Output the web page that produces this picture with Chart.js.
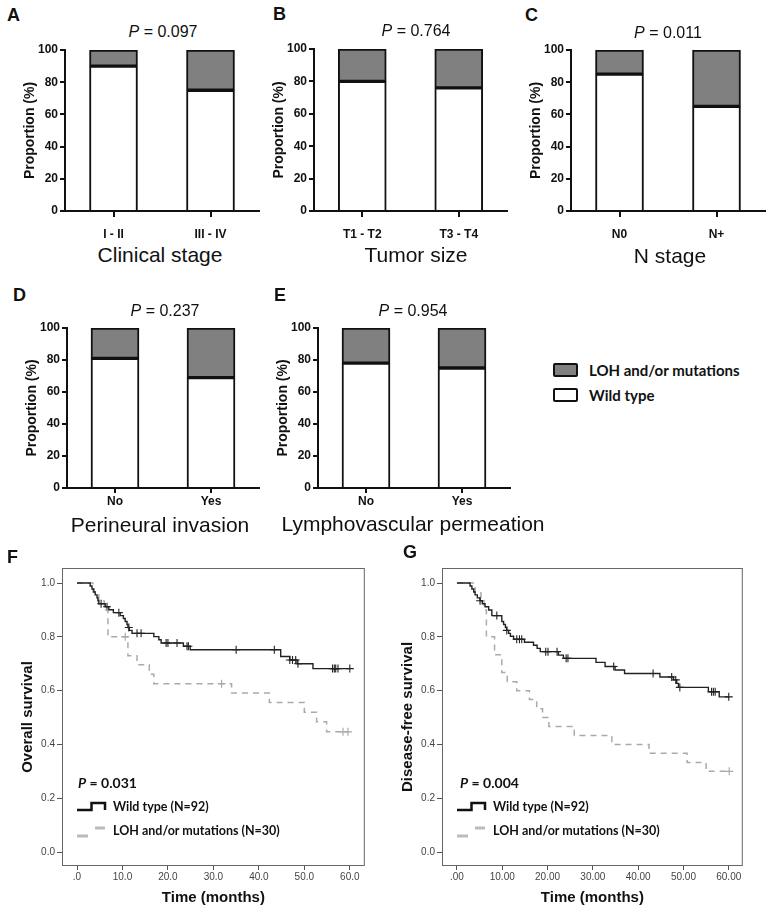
<!DOCTYPE html>
<html>
<head>
<meta charset="utf-8">
<title>LOH / mutation figure</title>
<script src="https://cdn.jsdelivr.net/npm/chart.js@4.4.1/dist/chart.umd.min.js"></script>
<style>
  body { margin: 0; background: #fff; }
  #fig { position: relative; width: 768px; height: 912px; overflow: hidden; font-family: "Liberation Sans", Arial, sans-serif; color: #111; }
  #fig canvas { position: absolute; }
  .tag { position: absolute; font-size: 18px; line-height: 18px; font-weight: bold; }
  .pval { position: absolute; font-size: 16px; line-height: 16px; transform: translate(-50%, -50%); white-space: nowrap; }
  .xname { position: absolute; font-size: 21px; line-height: 21px; transform: translate(-50%, -50%); white-space: nowrap; }
  .key { position: absolute; font-family: Lato, sans-serif; font-weight: bold; line-height: 1; white-space: nowrap; transform: translateY(-50%); }
  .box { position: absolute; width: 21px; height: 10px; border: 2px solid #111; border-radius: 2px; }
  #icons { position: absolute; left: 0; top: 0; }
</style>
</head>
<body>
<div id="fig">
  <canvas id="chA" width="263" height="201" style="left:0px;top:40px"></canvas>
  <canvas id="chB" width="262" height="202" style="left:249px;top:39px"></canvas>
  <canvas id="chC" width="262" height="201" style="left:506px;top:40px"></canvas>
  <canvas id="chD" width="261" height="200" style="left:2px;top:318px"></canvas>
  <canvas id="chE" width="261" height="200" style="left:253px;top:318px"></canvas>
  <canvas id="chF" width="370" height="352" style="left:0px;top:560px"></canvas>
  <canvas id="chG" width="368" height="352" style="left:380px;top:560px"></canvas>

  <div class="tag" style="left:7px;top:6px">A</div>
  <div class="tag" style="left:273px;top:5px">B</div>
  <div class="tag" style="left:525px;top:6px">C</div>
  <div class="tag" style="left:13px;top:286px">D</div>
  <div class="tag" style="left:274px;top:286px">E</div>
  <div class="tag" style="left:7px;top:548px">F</div>
  <div class="tag" style="left:403px;top:543px">G</div>

  <div class="pval" style="left:163px;top:32px"><i>P</i> = 0.097</div>
  <div class="pval" style="left:416px;top:31px"><i>P</i> = 0.764</div>
  <div class="pval" style="left:668px;top:33px"><i>P</i> = 0.011</div>
  <div class="pval" style="left:165px;top:311px"><i>P</i> = 0.237</div>
  <div class="pval" style="left:413px;top:311px"><i>P</i> = 0.954</div>

  <div class="xname" style="left:160px;top:254px">Clinical stage</div>
  <div class="xname" style="left:416px;top:254px">Tumor size</div>
  <div class="xname" style="left:670px;top:255px">N stage</div>
  <div class="xname" style="left:160px;top:524px">Perineural invasion</div>
  <div class="xname" style="left:413px;top:523px">Lymphovascular permeation</div>

  <div class="box" style="left:553px;top:363px;background:#808080"></div>
  <div class="box" style="left:553px;top:388px;background:#fff"></div>
  <div class="key" style="left:589px;top:370px;font-size:15px">LOH and/or mutations</div>
  <div class="key" style="left:589px;top:395px;font-size:15px">Wild type</div>

  <div class="key" style="left:78px;top:783px;font-size:14px"><i>P</i> = 0.031</div>
  <div class="key" style="left:113px;top:807px;font-size:12.5px">Wild type (N=92)</div>
  <div class="key" style="left:113px;top:831px;font-size:12.5px">LOH and/or mutations (N=30)</div>
  <div class="key" style="left:460px;top:783px;font-size:14px"><i>P</i> = 0.004</div>
  <div class="key" style="left:493px;top:807px;font-size:12.5px">Wild type (N=92)</div>
  <div class="key" style="left:493px;top:831px;font-size:12.5px">LOH and/or mutations (N=30)</div>

  <svg id="icons" width="768" height="912">
    <polyline points="77,810 91.5,810 91.5,803 105,803 105,810" fill="none" stroke="#111" stroke-width="2.5"/>
    <line x1="77" y1="836" x2="88" y2="836" stroke="#bbb" stroke-width="3"/>
    <line x1="95" y1="828" x2="105" y2="828" stroke="#bbb" stroke-width="3"/>
    <polyline points="457,810 471.5,810 471.5,803 485,803 485,810" fill="none" stroke="#111" stroke-width="2.5"/>
    <line x1="457" y1="836" x2="468" y2="836" stroke="#bbb" stroke-width="3"/>
    <line x1="475" y1="828" x2="485" y2="828" stroke="#bbb" stroke-width="3"/>
  </svg>
</div>

<script>
const FONT = '"Liberation Sans", Arial, sans-serif';

// A-E: proportion (%) of wild type vs LOH and/or mutations
const stageCats = ["I - II", "III - IV"];
const stageWild = [90, 75];
const stageLoh = [10, 25];
const sizeCats = ["T1 - T2", "T3 - T4"];
const sizeWild = [80, 76];
const sizeLoh = [20, 24];
const nodeCats = ["N0", "N+"];
const nodeWild = [85, 65];
const nodeLoh = [15, 35];
const pniCats = ["No", "Yes"];
const pniWild = [81, 69];
const pniLoh = [19, 31];
const lvpCats = ["No", "Yes"];
const lvpWild = [78, 75];
const lvpLoh = [22, 25];
const propTicks = [0, 20, 40, 60, 80, 100];

// F, G: Kaplan-Meier curves (time in months, survival fraction)
const survTicks = [0, 0.2, 0.4, 0.6, 0.8, 1.0];
const monthTicks = [0, 10, 20, 30, 40, 50, 60];

const osWildT = [0, 2.9, 3.3, 3.7, 4.0, 4.4, 4.6, 4.8, 6.2, 7.0, 8.0, 9.5, 10.2, 10.6, 11.0, 11.2, 11.5, 12.1, 16.9, 18.0, 18.5, 23.4, 24.9, 44.8, 46.8, 48.4, 51.9, 60.0];
const osWildS = [1.0, 0.989, 0.978, 0.967, 0.956, 0.945, 0.934, 0.923, 0.912, 0.901, 0.890, 0.879, 0.868, 0.857, 0.846, 0.835, 0.824, 0.813, 0.801, 0.789, 0.777, 0.765, 0.752, 0.727, 0.714, 0.700, 0.682, 0.682];
const osWildCens = [5.3, 6.6, 9.2, 11.4, 13.2, 14.1, 19.6, 20.0, 22.0, 24.2, 24.5, 35.0, 43.4, 46.8, 47.4, 48.1, 48.6, 56.2, 56.6, 56.9, 57.4, 60.0];

const osLohT = [0, 3.5, 4.8, 6.0, 6.8, 11.2, 13.2, 15.9, 16.9, 34.0, 42.3, 50.0, 52.7, 54.9, 59.6];
const osLohS = [1.0, 0.967, 0.933, 0.900, 0.800, 0.730, 0.696, 0.661, 0.626, 0.591, 0.556, 0.520, 0.484, 0.447, 0.447];
const osLohCens = [10.6, 31.8, 58.5, 59.6];

const dfsWildT = [0, 2.9, 3.3, 3.7, 4.0, 4.5, 5.1, 5.6, 6.2, 7.0, 7.7, 9.9, 10.3, 10.7, 11.0, 11.4, 11.8, 12.5, 14.9, 16.9, 17.7, 18.4, 22.4, 23.5, 30.7, 32.7, 34.9, 37.0, 44.8, 47.8, 48.5, 48.9, 55.5, 57.9, 60.1];
const dfsWildS = [1.0, 0.989, 0.978, 0.967, 0.956, 0.945, 0.934, 0.923, 0.912, 0.900, 0.879, 0.857, 0.846, 0.835, 0.824, 0.813, 0.802, 0.791, 0.780, 0.769, 0.757, 0.745, 0.732, 0.720, 0.705, 0.690, 0.677, 0.664, 0.651, 0.640, 0.627, 0.612, 0.596, 0.577, 0.577];
const dfsWildCens = [5.1, 8.8, 11.0, 13.2, 13.8, 14.3, 19.6, 20.1, 22.1, 24.1, 24.5, 34.6, 43.3, 47.4, 48.3, 49.2, 56.2, 56.6, 57.0, 60.0];

const dfsLohT = [0, 4.0, 5.3, 6.0, 6.5, 8.3, 9.9, 11.1, 13.2, 16.0, 17.6, 18.9, 20.3, 25.9, 34.2, 42.4, 50.8, 55.0, 60.1];
const dfsLohS = [1.0, 0.967, 0.933, 0.900, 0.800, 0.733, 0.667, 0.633, 0.600, 0.567, 0.533, 0.500, 0.467, 0.433, 0.400, 0.367, 0.333, 0.300, 0.300];
const dfsLohCens = [60.1];

const toXY = (t, s) => t.map((v, i) => ({ x: v, y: s[i] }));
const survAt = (t, s, when) => {
  let v = s[0];
  t.forEach((tt, i) => { if (tt <= when) v = s[i]; });
  return v;
};
const censXY = (t, s, cens) => cens.map((c) => ({ x: c, y: survAt(t, s, c) }));
const fixTicks = (arr) => (scale) => { scale.ticks = arr.map((v) => ({ value: v })); };

function barPanel(id, cats, wild, loh, tickLen, tickPad, padRight) {
  new Chart(document.getElementById(id), {
    type: "bar",
    data: {
      labels: cats,
      datasets: [
        // bottom edge left to the x axis line
        { label: "Wild type", data: wild, backgroundColor: "#ffffff", borderColor: "#111", borderWidth: 2, borderSkipped: "start", barThickness: 48 },
        { label: "LOH and/or mutations", data: loh, backgroundColor: "#808080", borderColor: "#111", borderWidth: 2, borderSkipped: false, barThickness: 48 },
      ],
    },
    options: {
      responsive: false,
      animation: false,
      layout: { padding: { top: 10, right: padRight, left: 0, bottom: 0 } },
      plugins: { legend: { display: false }, tooltip: { enabled: false } },
      scales: {
        x: {
          stacked: true,
          afterFit: (s) => { s.height = 30; },
          grid: { offset: false, drawOnChartArea: false, tickLength: tickLen, color: "#111", lineWidth: 2 },
          border: { color: "#111", width: 2 },
          ticks: { padding: tickPad, color: "#111", maxRotation: 0, font: { family: FONT, size: 12, weight: "bold" } },
        },
        y: {
          stacked: true,
          min: 0,
          max: 100,
          afterBuildTicks: fixTicks(propTicks),
          afterFit: (s) => { s.width = 65; },
          grid: { drawOnChartArea: false, tickLength: 5, color: "#111", lineWidth: 2 },
          border: { color: "#111", width: 2 },
          ticks: { padding: 2, color: "#111", font: { family: FONT, size: 12, weight: "bold" } },
          title: {
            display: true,
            text: "Proportion (%)",
            color: "#111",
            font: { family: FONT, size: 14, weight: "bold" },
            padding: { top: 22, bottom: 0 },
          },
        },
      },
    },
  });
}

const framePlugin = {
  id: "frame",
  beforeDatasetsDraw(chart) {
    const { ctx, chartArea: a } = chart;
    ctx.save();
    ctx.strokeStyle = "#666";
    ctx.lineWidth = 1;
    ctx.strokeRect(a.left + 0.5, a.top + 0.5, a.right - a.left - 1, a.bottom - a.top - 1);
    ctx.restore();
  },
};

function kmPanel(id, wildT, wildS, wildC, lohT, lohS, lohC, xMax, yTitle, digits) {
  new Chart(document.getElementById(id), {
    type: "line",
    data: {
      datasets: [
        { data: toXY(wildT, wildS), stepped: true, borderColor: "#222", borderWidth: 1.4, pointRadius: 0, fill: false },
        { data: toXY(lohT, lohS), stepped: true, borderColor: "#aaa", borderWidth: 1.5, borderDash: [6, 5], pointRadius: 0, fill: false },
        { data: censXY(wildT, wildS, wildC), showLine: false, pointStyle: "cross", pointRadius: 4, borderColor: "#222", borderWidth: 1.1 },
        { data: censXY(lohT, lohS, lohC), showLine: false, pointStyle: "cross", pointRadius: 4, borderColor: "#aaa", borderWidth: 1.2 },
      ],
    },
    options: {
      responsive: false,
      animation: false,
      layout: { padding: { top: 8, right: 5, left: 0, bottom: 0 } },
      plugins: { legend: { display: false }, tooltip: { enabled: false } },
      scales: {
        x: {
          type: "linear",
          min: -3.3,
          max: xMax,
          afterBuildTicks: fixTicks(monthTicks),
          afterFit: (s) => { s.height = 46; },
          grid: { drawOnChartArea: false, tickLength: 4, color: "#555" },
          border: { display: false },
          ticks: {
            padding: 1,
            color: "#444",
            maxRotation: 0,
            font: { family: FONT, size: 10 },
            callback: (v) => (v === 0 ? "." + "0".repeat(digits) : v.toFixed(digits)),
          },
          title: {
            display: true,
            text: "Time (months)",
            color: "#111",
            font: { family: FONT, size: 15, weight: "bold" },
            padding: { top: 0, bottom: 5 },
          },
        },
        y: {
          min: -0.052,
          max: 1.056,
          afterBuildTicks: fixTicks(survTicks),
          afterFit: (s) => { s.width = 62; },
          grid: { drawOnChartArea: false, tickLength: 5, color: "#555" },
          border: { display: false },
          ticks: { padding: 2, color: "#444", font: { family: FONT, size: 10 }, callback: (v) => v.toFixed(1) },
          title: {
            display: true,
            text: yTitle,
            color: "#111",
            font: { family: FONT, size: 15, weight: "bold" },
            padding: { top: 19, bottom: 0 },
          },
        },
      },
    },
    plugins: [framePlugin],
  });
}

barPanel("chA", stageCats, stageWild, stageLoh, 6, 10, 4);
barPanel("chB", sizeCats, sizeWild, sizeLoh, 6, 10, 4);
barPanel("chC", nodeCats, nodeWild, nodeLoh, 6, 10, 3);
barPanel("chD", pniCats, pniWild, pniLoh, 5, 1.5, 4);
barPanel("chE", lvpCats, lvpWild, lvpLoh, 5, 1.5, 4);

kmPanel("chF", osWildT, osWildS, osWildCens, osLohT, osLohS, osLohCens, 63.3, "Overall survival", 1);
kmPanel("chG", dfsWildT, dfsWildS, dfsWildCens, dfsLohT, dfsLohS, dfsLohCens, 63.1, "Disease-free survival", 2);
</script>
</body>
</html>
